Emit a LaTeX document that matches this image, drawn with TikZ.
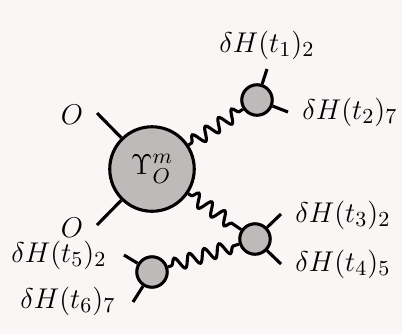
\documentclass[tikz,border=0pt]{standalone}
\usepackage{tikz}
\usetikzlibrary{decorations.pathmorphing}
\usepackage{amsmath,amssymb}
\definecolor{fgpaper}{HTML}{FBF6F6}
\definecolor{fgblob}{HTML}{BFBABA}

\begin{document}
\begin{tikzpicture}[
  x=0.42pt, y=-0.42pt,
  line width=1.3pt,
  every node/.style={font=\fontsize{13}{15}\selectfont},
  bigblob/.style={draw, circle, fill=fgblob, minimum size=35.5pt, inner sep=0pt},
  vertex/.style={draw, circle, fill=fgblob, minimum size=12.8pt, inner sep=0pt},
  wavy/.style={decorate, decoration={snake, segment length=6.6pt, amplitude=2.7pt,
    pre length=1.5pt, post length=1.5pt}}
]
  % Paper
  \fill[fgpaper] (0,0) rectangle (402,334);
  \useasboundingbox (0,0) rectangle (402,334);

  % Blobs
  \node[bigblob] (ups) at (152,169) {$\Upsilon^m_O$};
  \node[vertex] (v1) at (257,100) {};
  \node[vertex] (v2) at (255,239) {};
  \node[vertex] (v3) at (152,272) {};

  % Free ends of the legs
  \coordinate (o1) at (97,113);
  \coordinate (o2) at (97,225);
  \coordinate (e1) at (267,69);
  \coordinate (e2) at (288,112);
  \coordinate (e3) at (281,214);
  \coordinate (e4) at (281,264);
  \coordinate (e5) at (124,255);
  \coordinate (e6) at (133,302);

  % Legs
  \draw (o1) -- (ups);
  \draw (o2) -- (ups);
  \draw (e1) -- (v1);
  \draw (e2) -- (v1);
  \draw (e3) -- (v2);
  \draw (e4) -- (v2);
  \draw (e5) -- (v3);
  \draw (e6) -- (v3);

  % Wavy propagators
  \draw[wavy] (ups) -- (v1);
  \draw[wavy] (ups) -- (v2);
  \draw[wavy] (v3) -- (v2);

  % Labels
  \node (lo1) at (72,115) {$O$};
  \node (lo2) at (72,228) {$O$};
  \node (l1) at (267,45) {$\delta H(t_1)_2$};
  \node (l2) at (350,112) {$\delta H(t_2)_7$};
  \node (l3) at (343,215) {$\delta H(t_3)_2$};
  \node (l4) at (343,264) {$\delta H(t_4)_5$};
  \node (l5) at (59,255) {$\delta H(t_5)_2$};
  \node (l6) at (68,301) {$\delta H(t_6)_7$};

\end{tikzpicture}
\end{document}
